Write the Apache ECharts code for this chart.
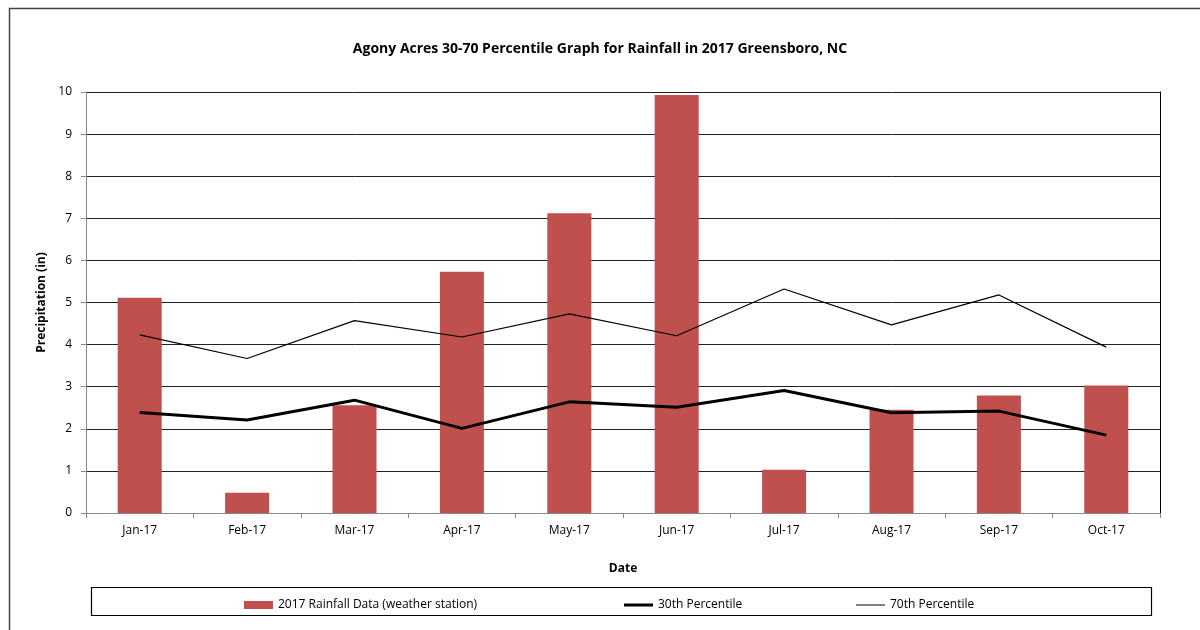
<!DOCTYPE html>
<html>
<head>
<meta charset="utf-8">
<script src="https://cdn.jsdelivr.net/npm/echarts@6/dist/echarts.min.js"></script>
<style>
  html, body { margin: 0; padding: 0; background: #fff; }
  #chart { width: 1200px; height: 630px; }
</style>
</head>
<body>
<div id="chart"></div>
<script>
// months on the x axis
var months = ["Jan-17", "Feb-17", "Mar-17", "Apr-17", "May-17", "Jun-17", "Jul-17", "Aug-17", "Sep-17", "Oct-17"];
// monthly rainfall (in)
var rainfall = [5.11, 0.48, 2.56, 5.73, 7.12, 9.93, 1.03, 2.45, 2.79, 3.03];
// percentile lines
var pct30 = [2.39, 2.21, 2.68, 2.01, 2.64, 2.51, 2.91, 2.38, 2.42, 1.85];
var pct70 = [4.23, 3.67, 4.57, 4.18, 4.73, 4.21, 5.32, 4.47, 5.18, 3.94];

var FONT = "Open Sans";
var chart = echarts.init(document.getElementById("chart"));

var legendText = { fontSize: 12, color: "#000", fontFamily: FONT };

var option = {
  animation: false,
  textStyle: { fontFamily: FONT, color: "#000" },
  title: {
    text: "Agony Acres 30-70 Percentile Graph for Rainfall in 2017 Greensboro, NC",
    left: "center",
    top: 37,
    textStyle: { fontSize: 14, fontWeight: "bold", color: "#000", fontFamily: FONT }
  },
  grid: { left: 86, right: 40, top: 92, bottom: 117 },
  legend: [
    {
      data: [{ name: "2017 Rainfall Data (weather station)", icon: "rect" }],
      left: 239, top: 594, itemWidth: 29, itemHeight: 8,
      textStyle: legendText
    },
    {
      data: [{ name: "30th Percentile", icon: "rect" }],
      left: 619, top: 594, itemWidth: 29, itemHeight: 3,
      textStyle: legendText
    },
    {
      data: [{ name: "70th Percentile", icon: "rect" }],
      left: 851, top: 594, itemWidth: 29, itemHeight: 1,
      textStyle: legendText
    }
  ],
  xAxis: {
    type: "category",
    data: months,
    name: "Date",
    nameLocation: "middle",
    nameGap: 50,
    nameTextStyle: { fontSize: 12, fontWeight: "bold", color: "#000" },
    axisLine: { lineStyle: { color: "#888", width: 1 } },
    axisTick: { show: true, length: 5, lineStyle: { color: "#888" } },
    axisLabel: { fontSize: 12, color: "#000", margin: 12 }
  },
  yAxis: [
    {
      type: "value",
      min: 0, max: 10, interval: 1,
      name: "Precipitation (in)",
      nameLocation: "middle",
      nameGap: 32,
      nameTextStyle: { fontSize: 12, fontWeight: "bold", color: "#000" },
      axisLine: { show: true, lineStyle: { color: "#888", width: 1 } },
      axisTick: { show: true, length: 5, lineStyle: { color: "#888" } },
      axisLabel: { fontSize: 12, color: "#000", margin: 14 },
      splitLine: { lineStyle: { color: "#222", width: 1 } }
    },
    {
      type: "value",
      position: "right",
      min: 0, max: 10, interval: 1,
      axisLine: { show: true, lineStyle: { color: "#000", width: 1 } },
      axisTick: { show: false },
      axisLabel: { show: false },
      splitLine: { show: false }
    }
  ],
  series: [
    {
      name: "2017 Rainfall Data (weather station)",
      type: "bar",
      data: rainfall,
      barWidth: 44,
      itemStyle: { color: "#C0504D" }
    },
    {
      name: "30th Percentile",
      type: "line",
      data: pct30,
      symbol: "none",
      lineStyle: { color: "#000", width: 3 },
      itemStyle: { color: "#000" }
    },
    {
      name: "70th Percentile",
      type: "line",
      data: pct70,
      symbol: "none",
      lineStyle: { color: "#000", width: 1.2 },
      itemStyle: { color: "#000" }
    }
  ],
  graphic: [
    // outer chart-area frame (only top and left edges are visible in the crop)
    { type: "polyline", shape: { points: [[9.5, 630], [9.5, 8.5], [1200, 8.5]] },
      style: { stroke: "#444", lineWidth: 1.5, fill: null }, silent: true },
    // legend box
    { type: "rect", shape: { x: 91.5, y: 587.5, width: 1060, height: 28 },
      style: { stroke: "#000", lineWidth: 1.2, fill: null }, silent: true, z: -1 }
  ]
};

chart.setOption(option);
</script>
</body>
</html>
